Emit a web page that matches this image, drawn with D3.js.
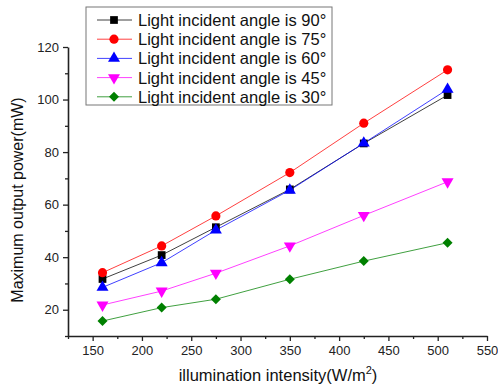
<!DOCTYPE html>
<html>
<head>
<meta charset="utf-8">
<script src="https://cdn.jsdelivr.net/npm/d3@7"></script>
<style>
  body { margin: 0; background: #fff; }
  svg { font-family: "Liberation Sans", Arial, sans-serif; }
</style>
</head>
<body>
<div id="chart"></div>
<script>
// illumination intensity (W/m2)
const intensity = [160, 220, 275, 350, 425, 510];

const angle90 = [31.7, 40.8, 51.4, 65.8, 83.3, 101.7];
const angle75 = [34.1, 44.3, 55.7, 72.2, 91.0, 111.3];
const angle60 = [28.5, 37.9, 50.3, 65.5, 83.4, 103.9];
const angle45 = [21.8, 27.1, 33.9, 44.3, 55.9, 68.7];
const angle30 = [15.7, 20.8, 24.0, 31.6, 38.5, 45.5];

const seriesNames = ["Light incident angle is 90°", "Light incident angle is 75°",
  "Light incident angle is 60°", "Light incident angle is 45°", "Light incident angle is 30°"];
const xTicks = [150, 200, 250, 300, 350, 400, 450, 500, 550];
const yTicks = [20, 40, 60, 80, 100, 120];

const series = [
  { name: seriesNames[0], values: angle90, color: "#000000", shape: d3.symbolSquare, size: 60, rot: 0 },
  { name: seriesNames[1], values: angle75, color: "#ff0000", shape: d3.symbolCircle, size: 66, rot: 0 },
  { name: seriesNames[2], values: angle60, color: "#0000ff", shape: d3.symbolTriangle, size: 62, rot: 0 },
  { name: seriesNames[3], values: angle45, color: "#ff00ff", shape: d3.symbolTriangle, size: 62, rot: 180 },
  { name: seriesNames[4], values: angle30, color: "#008000", shape: d3.symbolSquare, size: 50, rot: 45 }
];

const W = 498, H = 389;
const svg = d3.select("#chart").append("svg").attr("width", W).attr("height", H);

const x = d3.scaleLinear().domain([125, 550]).range([68, 487]);
const y = d3.scaleLinear().domain([10, 120]).range([336, 47]);

// minor ticks
const xMinor = d3.range(125, 551, 25).filter(v => v % 50 !== 0);
const yMinor = d3.range(10, 121, 10).filter(v => v % 20 !== 0);

svg.append("g").attr("transform", "translate(0,336)")
  .call(d3.axisBottom(x).tickValues(xTicks).tickSize(5).tickSizeOuter(0).tickPadding(5));
svg.append("g").attr("transform", "translate(0,336)")
  .call(d3.axisBottom(x).tickValues(xMinor).tickSize(3).tickFormat("").tickSizeOuter(0))
  .select(".domain").remove();

svg.append("g").attr("transform", "translate(68,0)")
  .call(d3.axisLeft(y).tickValues(yTicks).tickSize(5).tickSizeOuter(0).tickPadding(4));
svg.append("g").attr("transform", "translate(68,0)")
  .call(d3.axisLeft(y).tickValues(yMinor).tickSize(3).tickFormat("").tickSizeOuter(0))
  .select(".domain").remove();

svg.selectAll(".domain").attr("stroke", "#222").attr("stroke-width", 1.6);
svg.selectAll(".tick line").attr("stroke", "#222").attr("stroke-width", 1.3);
svg.selectAll(".tick text").attr("font-size", 13).attr("fill", "#222")
  .attr("font-family", "Liberation Sans, Arial, sans-serif");

// axis titles
const xt = svg.append("text").attr("x", 278).attr("y", 381).attr("text-anchor", "middle")
  .attr("font-size", 16.5).attr("fill", "#111");
xt.append("tspan").text("illumination intensity(W/m");
xt.append("tspan").attr("dy", -7).attr("font-size", 11).text("2");
xt.append("tspan").attr("dy", 7).text(")");

svg.append("text").attr("transform", "translate(23,200) rotate(-90)")
  .attr("text-anchor", "middle").attr("font-size", 16).attr("fill", "#111")
  .text("Maximum output power(mW)");

// lines and markers
const line = d3.line().x((d, i) => x(intensity[i])).y(d => y(d));

series.forEach(s => {
  svg.append("path").datum(s.values).attr("d", line)
    .attr("fill", "none").attr("stroke", s.color).attr("stroke-width", 1).attr("stroke-opacity", 0.75);
});
series.forEach(s => {
  svg.selectAll(null).data(s.values).enter().append("path")
    .attr("d", d3.symbol().type(s.shape).size(s.size))
    .attr("transform", (d, i) => `translate(${x(intensity[i])},${y(d)}) rotate(${s.rot})`)
    .attr("fill", s.color);
});

// legend
const lg = svg.append("g");
lg.append("rect").attr("x", 86).attr("y", 7).attr("width", 246).attr("height", 98)
  .attr("fill", "#fff").attr("stroke", "#777").attr("stroke-width", 1);
series.forEach((s, i) => {
  const cy = 20 + i * 19.2;
  lg.append("line").attr("x1", 97).attr("x2", 132).attr("y1", cy).attr("y2", cy)
    .attr("stroke", s.color).attr("stroke-width", 1).attr("stroke-opacity", 0.75);
  lg.append("path").attr("d", d3.symbol().type(s.shape).size(s.size))
    .attr("transform", `translate(114,${cy}) rotate(${s.rot})`).attr("fill", s.color);
  lg.append("text").attr("x", 138).attr("y", cy + 6).attr("font-size", 16.5).attr("fill", "#111")
    .text(s.name);
});
</script>
</body>
</html>
